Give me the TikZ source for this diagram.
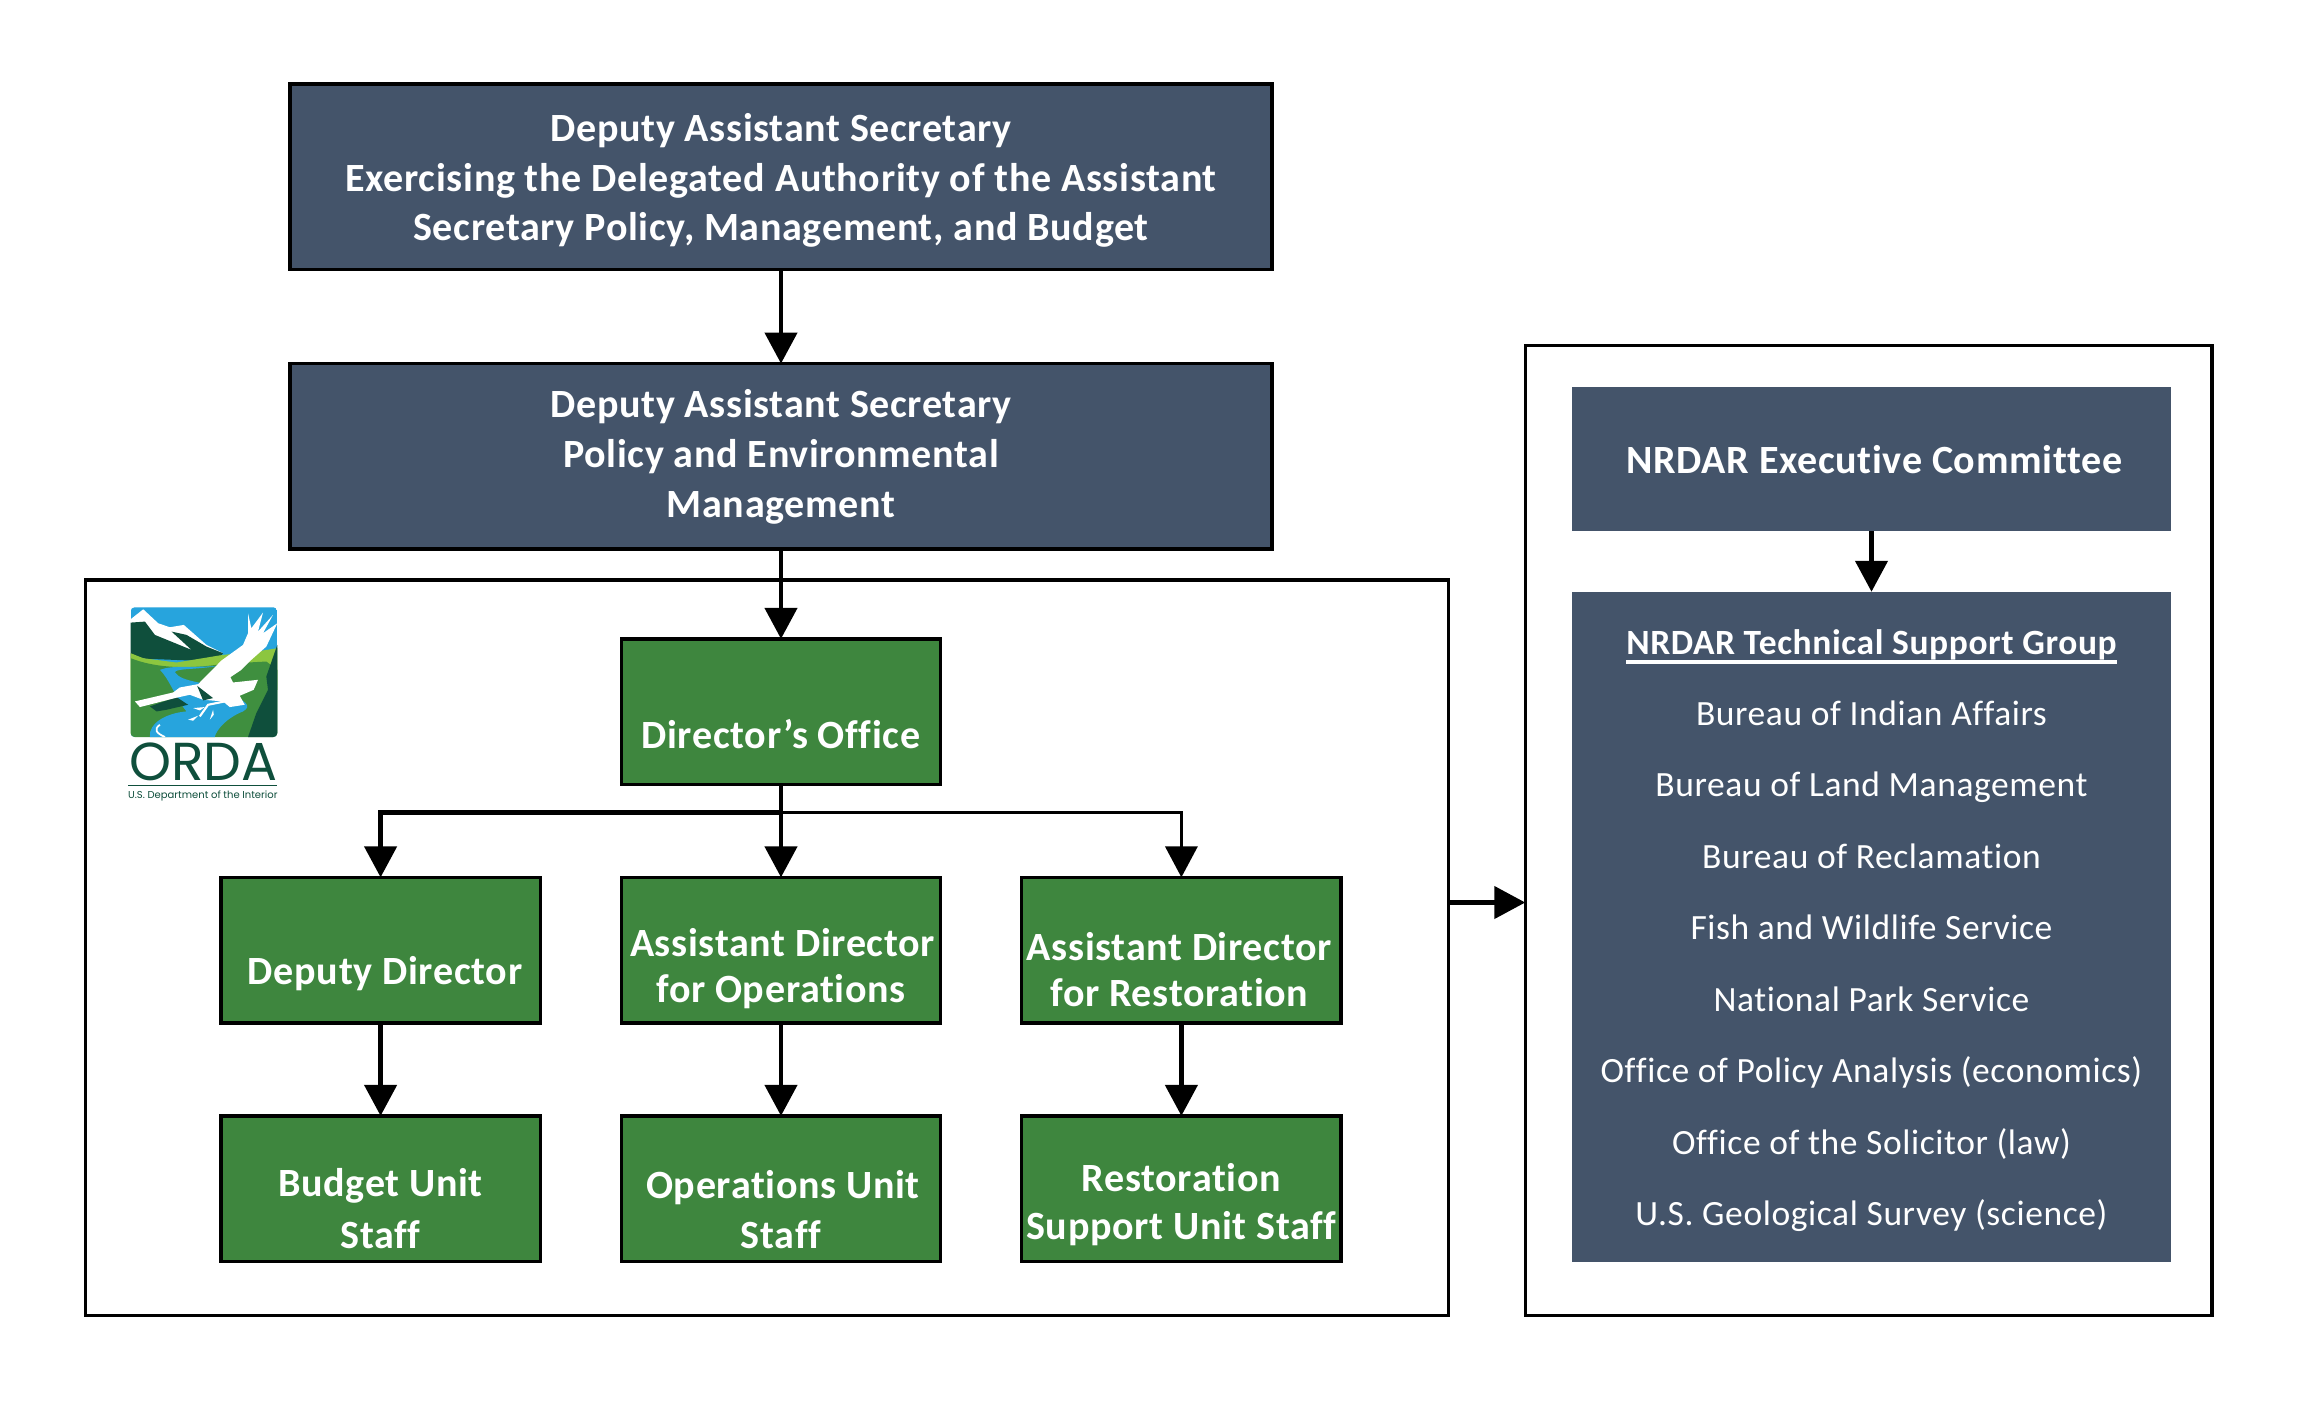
\documentclass[tikz,border=0pt]{standalone}
\usepackage{fontspec}
\usepackage{xcolor}
\usetikzlibrary{positioning, arrows.meta}
\setmainfont{Carlito}[LetterSpace=1.7, Ligatures=NoCommon]
\newfontfamily\logofont{Poppins}
\newcommand{\groupline}[1]{\vtop{\hbox{#1}\kern0.2pt\hrule height 1pt}}
\definecolor{slatebox}{HTML}{44546A}
\definecolor{greenbox}{HTML}{3E863E}
\definecolor{logodark}{HTML}{0F4F3C}
\definecolor{logogreen}{HTML}{3F8F3F}
\definecolor{logolime}{HTML}{8CC63F}
\definecolor{logosky}{HTML}{27A4DD}

\begin{document}
\begin{tikzpicture}[
    node distance=0.927cm and 0.81cm,
    every node/.style={inner sep=0pt, outer sep=0pt},
    frame/.style={rectangle, draw=black, line width=1pt, fill=white},
    seniorbox/.style={rectangle, draw=black, line width=1pt, fill=slatebox, text=white, align=center, minimum width=9.82cm, minimum height=1.855cm, text depth=0pt, font=\fontsize{11.4pt}{14.1pt}\selectfont\bfseries},
    orgbox/.style={rectangle, draw=black, line width=1pt, fill=greenbox, text=white, align=center, minimum width=3.194cm, minimum height=1.458cm, text depth=0pt, font=\fontsize{11.4pt}{14.1pt}\selectfont\bfseries},
    panel/.style={rectangle, fill=slatebox, text=white, align=center, minimum width=5.99cm},
    link/.style={-{Triangle[length=0.31cm, width=0.32cm]}, line width=1.3pt}
]
    \useasboundingbox (0,0) rectangle (23.08,-14.11);

    % Outer frames
    \node[frame, minimum width=13.63cm, minimum height=7.355cm] (orda) at (7.67,-9.475) {};
    \node[frame, minimum width=6.865cm, minimum height=9.696cm] (nrdar) at (18.685,-8.305) {};

    % Senior leadership
    \node[seniorbox, text height=1.285cm] (das1) at (7.81,-1.766) {Deputy Assistant Secretary\\Exercising the Delegated Authority of the Assistant\\Secretary Policy, Management, and Budget};
    \node[seniorbox, text height=1.215cm, below=0.942cm of das1] (das2) {Deputy Assistant Secretary\\Policy and Environmental\\Management};

    % ORDA
    \node[orgbox, text height=0.735cm, below=0.898cm of das2] (office) {Director’s Office};
    \node[orgbox, text height=1.05cm, below=of office] (ops) {\hspace*{0.03cm}Assistant Director\\[-0.9pt]for Operations};
    \node[orgbox, text height=0.69cm, left=of ops] (deputy) {\hspace*{0.09cm}Deputy Director};
    \node[orgbox, text height=1.13cm, right=of ops] (rest) {Assistant Director\hspace*{0.04cm}\\[-0.8pt]for Restoration\hspace*{0.04cm}};
    \node[orgbox, text height=1.19cm, below=of deputy] (budget) {Budget Unit\\[0.5pt]Staff};
    \node[orgbox, text height=1.19cm, below=of ops] (opsunit) {\hspace*{0.04cm}Operations Unit\\Staff};
    \node[orgbox, text height=1.02cm, below=of rest] (restunit) {Restoration\\[-0.5pt]Support Unit Staff};

    % NRDAR
    \node[panel, minimum height=1.443cm, font=\fontsize{11.4pt}{14.1pt}\selectfont\bfseries] (exec) at (18.715,-4.593) {\hspace*{0.06cm}NRDAR Executive Committee};
    \node[panel, below=0.603cm of exec, minimum height=6.698cm, text height=5.975cm, text depth=0pt, font=\fontsize{10.1pt}{20.32pt}\selectfont] (support) {\groupline{\bfseries NRDAR Technical Support Group}\\Bureau of Indian Affairs\\Bureau of Land Management\\Bureau of Reclamation\\Fish and Wildlife Service\\National Park Service\\Office of Policy Analysis (economics)\\Office of the Solicitor (law)\\U.S. Geological Survey (science)};

    \coordinate[below=0.28cm of office] (bus);
    \coordinate[below=0.72cm of nrdar.west] (nrdarin);

    \draw[link] (das1) -- (das2);
    \draw[link] (das2) -- (office);
    \draw[line width=1.3pt] (office) -- (bus);
    \draw[line width=1.6pt] (bus) -- (bus -| deputy);
    \draw[link] (bus) -| (deputy);
    \draw[link] (bus) -- (ops);
    \draw[link, line width=1pt] (bus) -| (rest);
    \draw[link] (deputy) -- (budget);
    \draw[link] (ops) -- (opsunit);
    \draw[link] (rest) -- (restunit);
    \draw[link] (exec) -- (support);
    \draw[link] (nrdarin -| orda.east) -- (nrdarin);

    % Logo
    \begin{scope}[shift={(1.10,-5.90)}, x=0.003333cm, y=-0.003333cm]
        \begin{scope}
            \clip[rounded corners=0.04cm] (62,52) rectangle (503,442);
            \fill[logosky] (62,52) rectangle (503,442);
            \fill[white] (62,88) -- (100,58) -- (145,100) -- (180,112) -- (222,105) -- (290,165) -- (340,190) -- (62,210) -- cycle;
            \fill[logodark] (62,98) -- (105,95) -- (135,135) -- (245,180) -- (185,125) -- (230,135) -- (290,170) -- (340,190) -- (320,215) -- (62,205) -- cycle;
            \fill[logolime] (62,190) -- (100,205) -- (200,218) -- (340,195) -- (440,185) -- (503,175) -- (503,300) -- (62,300) -- cycle;
            \fill[logogreen] (62,205) .. controls (150,240) and (260,235) .. (340,222) -- (470,215) -- (503,240) -- (503,442) -- (62,442) -- cycle;
            \fill[logosky] (150,240) .. controls (190,225) and (240,235) .. (325,228) .. controls (260,240) and (200,235) .. (195,247) .. controls (215,280) and (300,275) .. (330,300) .. controls (420,335) and (425,350) .. (400,365) .. controls (350,385) and (320,420) .. (315,442) -- (120,442) .. controls (115,400) and (170,370) .. (230,365) .. controls (200,330) and (180,270) .. (150,240) -- cycle;
            \fill[logodark] (503,165) -- (470,260) -- (475,300) -- (440,370) -- (415,442) -- (503,442) -- cycle;
            \fill[logodark] (120,350) -- (200,322) -- (235,345) -- (170,360) -- (140,365) -- cycle;
            \draw[white, line width=0.5pt] (150,405) .. controls (130,420) and (140,430) .. (165,442);
            \fill[white] (75,335) -- (190,308) -- (210,293) -- (265,283) -- (335,212) -- (400,165) -- (415,130) -- (415,70) -- (425,115) -- (460,68) -- (445,125) -- (490,75) -- (460,130) -- (503,100) -- (470,170) -- (425,210) -- (395,240) -- (362,262) -- (370,278) -- (445,270) -- (432,300) -- (390,318) -- (405,345) -- (360,352) -- (340,335) -- (280,330) -- (240,315) -- (195,325) -- (90,352) -- cycle;
            \fill[logodark] (262,288) -- (310,325) -- (280,332) -- cycle;
            \draw[white, line width=0.6pt] (345,335) -- (295,345) -- (270,380);
            \fill[white] (235,390) -- (265,378) -- (250,393) -- cycle (250,355) -- (285,352) -- (270,362) -- cycle (300,390) -- (310,360) -- (312,375) -- cycle;
        \end{scope}
        \node[text=logodark, text depth=0pt, font=\logofont\fontsize{15.2pt}{15.2pt}\selectfont] (ordaword) at (281,516) {ORDA};
        \draw[logodark, line width=0.3pt] (55,587) -- (503,587);
        \node[text=logodark, text height=2pt, text depth=0pt, font=\logofont\fontsize{2.85pt}{3pt}\selectfont] (doi) at (279,617) {U.S. Department of the Interior};
    \end{scope}
\end{tikzpicture}
\end{document}
